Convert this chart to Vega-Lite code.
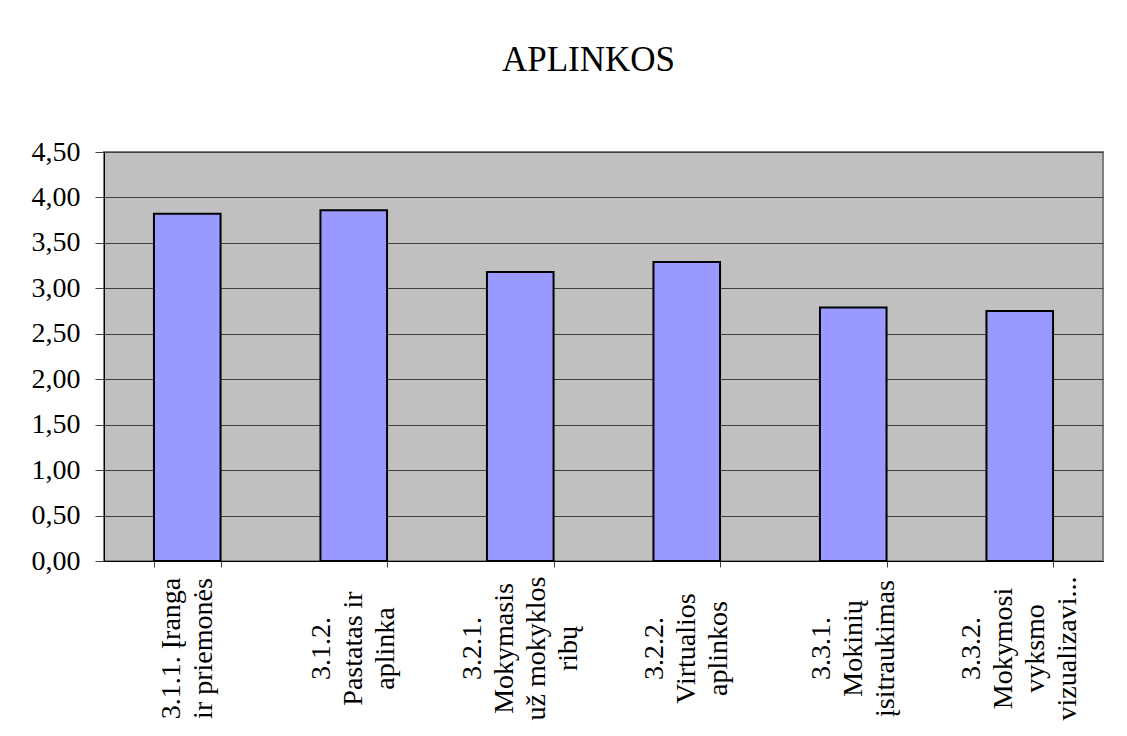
{
  "$schema": "https://vega.github.io/schema/vega-lite/v6.json",
  "width": 999,
  "height": 409,
  "autosize": {"type": "none"},
  "padding": {"left": 104, "top": 152, "right": 24, "bottom": 175},
  "background": "white",
  "title": {
    "text": "APLINKOS",
    "font": "Liberation Serif",
    "fontSize": 35,
    "fontWeight": "normal",
    "color": "black",
    "anchor": "middle",
    "frame": "group",
    "baseline": "alphabetic",
    "offset": 32,
    "dx": -15
  },
  "data": {
    "values": [
      {"kriterijus": "3.1.1. Įranga\nir priemonės", "reiksme": 3.82},
      {"kriterijus": "3.1.2.\nPastatas ir\naplinka", "reiksme": 3.86},
      {"kriterijus": "3.2.1.\nMokymasis\nuž mokyklos\nribų", "reiksme": 3.18},
      {"kriterijus": "3.2.2.\nVirtualios\naplinkos", "reiksme": 3.29},
      {"kriterijus": "3.3.1.\nMokinių\nįsitraukimas", "reiksme": 2.79},
      {"kriterijus": "3.3.2.\nMokymosi\nvyksmo\nvizualizavi...", "reiksme": 2.75}
    ]
  },
  "mark": {"type": "bar", "fill": "#9999FF", "stroke": "black", "strokeWidth": 2},
  "encoding": {
    "x": {
      "field": "kriterijus",
      "type": "nominal",
      "sort": null,
      "scale": {"paddingInner": 0.6, "paddingOuter": 0.3},
      "axis": {
        "title": null,
        "labelExpr": "isValid(datum.value) ? split(datum.value, '\\n') : ''",
        "labelAngle": -90,
        "labelAlign": "center",
        "labelBaseline": "middle",
        "labelLineHeight": 32,
        "labelOffset": {"expr": "isValid(datum.value) ? -(length(split(datum.value, '\\n')) - 1) * 16 : 0"},
        "labelPadding": 81,
        "labelFont": "Liberation Serif",
        "labelFontSize": 28,
        "labelColor": "black",
        "labelLimit": 0,
        "labelOverlap": false,
        "tickBand": "extent",
        "tickSize": 6,
        "tickColor": "#404040",
        "domainColor": "black",
        "domainWidth": 1,
        "grid": false
      }
    },
    "y": {
      "field": "reiksme",
      "type": "quantitative",
      "scale": {"domain": [0, 4.5], "nice": false},
      "axis": {
        "title": null,
        "values": [0, 0.5, 1, 1.5, 2, 2.5, 3, 3.5, 4, 4.5],
        "labelExpr": "replace(format(datum.value, '.2f'), '.', ',')",
        "labelFont": "Liberation Serif",
        "labelFontSize": 28,
        "labelColor": "black",
        "labelPadding": 15,
        "tickSize": 9,
        "tickColor": "#404040",
        "domainColor": "black",
        "grid": true,
        "gridColor": "#404040",
        "gridWidth": 1
      }
    }
  },
  "config": {
    "view": {"fill": "#C0C0C0", "stroke": "#808080", "strokeWidth": 2}
  }
}
